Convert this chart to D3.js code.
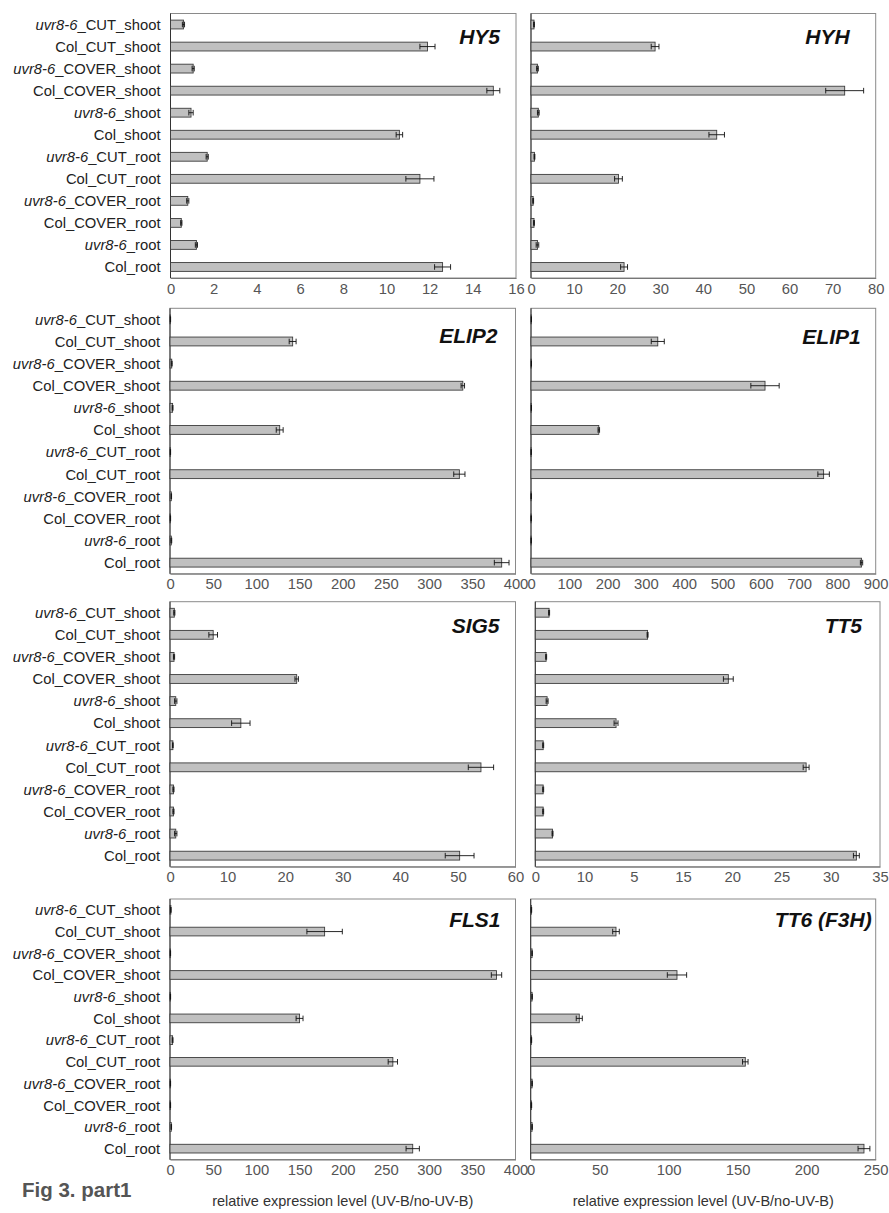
<!DOCTYPE html>
<html lang="en">
  <head>
    <meta charset="UTF-8" />
    <title>Fig 3. part1</title>
    <style>
      body {
        margin: 0;
        background: #fff;
        font-family: "Liberation Sans", Arial, sans-serif;
      }
    </style>
  </head>
  <body>
    <div id="chart"></div>
    <script src="https://d3js.org/d3.v7.min.js"></script>
    <script>
      // categories, top to bottom
      const categories = [
        "uvr8-6_CUT_shoot",
        "Col_CUT_shoot",
        "uvr8-6_COVER_shoot",
        "Col_COVER_shoot",
        "uvr8-6_shoot",
        "Col_shoot",
        "uvr8-6_CUT_root",
        "Col_CUT_root",
        "uvr8-6_COVER_root",
        "Col_COVER_root",
        "uvr8-6_root",
        "Col_root",
      ];

      const hy5Values = [0.6, 11.9, 1.05, 14.95, 0.95, 10.6, 1.7, 11.55, 0.8, 0.5, 1.2, 12.6];
      const hy5Errors = [0.05, 0.35, 0.05, 0.3, 0.1, 0.15, 0.05, 0.65, 0.05, 0.03, 0.05, 0.37];
      const hy5Ticks = [0, 2, 4, 6, 8, 10, 12, 14, 16];

      const hyhValues = [0.7, 28.8, 1.5, 72.8, 1.7, 43.1, 0.8, 20.3, 0.5, 0.7, 1.5, 21.6];
      const hyhErrors = [0.1, 0.9, 0.2, 4.4, 0.2, 1.8, 0.1, 0.9, 0.1, 0.1, 0.3, 0.8];
      const hyhTicks = [0, 10, 20, 30, 40, 50, 60, 70, 80];

      const elip2Values = [0.5, 142, 2, 339, 3, 127, 0.5, 335, 1.5, 0.5, 1.5, 384];
      const elip2Errors = [0.2, 4, 0.5, 2, 0.5, 4, 0.2, 6.5, 0.3, 0.2, 0.5, 8.5];
      const elip2Ticks = [0, 50, 100, 150, 200, 250, 300, 350, 400];

      const elip1Values = [1, 331, 1, 611, 1, 177, 0.5, 764, 0.5, 0.5, 0.5, 863];
      const elip1Errors = [0.3, 17, 0.3, 37, 0.3, 2, 0.2, 15, 0.2, 0.2, 0.2, 3];
      const elip1Ticks = [0, 100, 200, 300, 400, 500, 600, 700, 800, 900];

      const sig5Values = [0.75, 7.5, 0.7, 22.0, 1.0, 12.3, 0.5, 54.0, 0.6, 0.6, 1.0, 50.3];
      const sig5Errors = [0.1, 0.75, 0.1, 0.3, 0.2, 1.6, 0.05, 2.2, 0.1, 0.1, 0.2, 2.5];
      const sig5Ticks = [0, 10, 20, 30, 40, 50, 60];

      const tt5Values = [1.4, 11.4, 1.1, 19.6, 1.2, 8.2, 0.8, 27.5, 0.8, 0.8, 1.75, 32.6];
      const tt5Errors = [0.05, 0.05, 0.05, 0.5, 0.1, 0.2, 0.05, 0.3, 0.05, 0.05, 0.05, 0.3];
      const tt5Ticks = [0, 5, 10, 15, 20, 25, 30, 35];
      // the original figure prints 10 and 5 swapped
      const tt5TickLabels = ["0", "10", "5", "15", "20", "25", "30", "35"];

      const fls1Values = [1, 179, 0.5, 378, 0.5, 150, 3, 258, 0.5, 0.5, 1.5, 281];
      const fls1Errors = [0.3, 20.5, 0.2, 6, 0.2, 4, 0.5, 5.4, 0.2, 0.2, 0.3, 7.7];
      const fls1Ticks = [0, 50, 100, 150, 200, 250, 300, 350, 400];

      const tt6Values = [0.5, 61.8, 1, 106, 1, 35.2, 0.5, 155.5, 1, 0.5, 1, 241.5];
      const tt6Errors = [0.2, 2.4, 0.2, 7, 0.2, 2.2, 0.2, 2, 0.2, 0.2, 0.2, 4.3];
      const tt6Ticks = [0, 50, 100, 150, 200, 250];

      const axisTitle = "relative expression level (UV-B/no-UV-B)";

      const panels = [
        { gene: "HY5", values: hy5Values, errors: hy5Errors, ticks: hy5Ticks },
        { gene: "HYH", values: hyhValues, errors: hyhErrors, ticks: hyhTicks },
        { gene: "ELIP2", values: elip2Values, errors: elip2Errors, ticks: elip2Ticks },
        { gene: "ELIP1", values: elip1Values, errors: elip1Errors, ticks: elip1Ticks },
        { gene: "SIG5", values: sig5Values, errors: sig5Errors, ticks: sig5Ticks },
        { gene: "TT5", values: tt5Values, errors: tt5Errors, ticks: tt5Ticks, tickLabels: tt5TickLabels },
        { gene: "FLS1", values: fls1Values, errors: fls1Errors, ticks: fls1Ticks },
        { gene: "TT6 (F3H)", values: tt6Values, errors: tt6Errors, ticks: tt6Ticks },
      ];

      // frame of each panel in the page
      const layout = [
        { x0: 170.5, x1: 516, y0: 13.5, y1: 278, tx: 16, ty: 30 },
        { x0: 531, x1: 875.7, y0: 13.5, y1: 278, tx: 26, ty: 30 },
        { x0: 170, x1: 515.5, y0: 308.3, y1: 573.7, tx: 18, ty: 35 },
        { x0: 531, x1: 875.7, y0: 308.3, y1: 573.7, tx: 15, ty: 36 },
        { x0: 170, x1: 515.5, y0: 601.7, y1: 866.7, tx: 16, ty: 31 },
        { x0: 535.3, x1: 880, y0: 601.7, y1: 866.7, tx: 18, ty: 31.5 },
        { x0: 170, x1: 515.5, y0: 899, y1: 1159.5, tx: 15, ty: 28 },
        { x0: 530.7, x1: 875.7, y0: 899, y1: 1159.5, tx: 4, ty: 28 },
      ];

      const svg = d3
        .select("#chart")
        .append("svg")
        .attr("width", 889)
        .attr("height", 1213)
        .style("font-family", '"Liberation Sans", Arial, sans-serif');

      svg.append("rect").attr("width", 889).attr("height", 1213).attr("fill", "#fff");

      panels.forEach((p, i) => {
        const L = layout[i];
        const isLeft = i % 2 === 0;

        const x = d3
          .scaleLinear()
          .domain([0, p.ticks[p.ticks.length - 1]])
          .range([L.x0, L.x1]);
        const y = d3
          .scaleBand()
          .domain(categories)
          .range([L.y0, L.y1])
          .paddingInner(0.6)
          .paddingOuter(0.3);

        const g = svg.append("g").attr("class", "panel");

        // frame
        g.append("rect")
          .attr("x", L.x0)
          .attr("y", L.y0)
          .attr("width", L.x1 - L.x0)
          .attr("height", L.y1 - L.y0)
          .attr("fill", "none")
          .attr("stroke", "#8a8a8a")
          .attr("stroke-width", 1);

        // x axis
        const xAxis = d3
          .axisBottom(x)
          .tickValues(p.ticks)
          .tickSize(0)
          .tickPadding(5)
          .tickFormat((d, k) => (p.tickLabels ? p.tickLabels[k] : d));
        const ax = g
          .append("g")
          .attr("transform", `translate(0,${L.y1})`)
          .call(xAxis);
        ax.select(".domain").attr("stroke", "#777");
        ax.selectAll("text")
          .attr("font-size", "14.8px")
          .attr("font-family", '"Liberation Sans", Arial, sans-serif')
          .attr("fill", "#555");

        // left axis line
        g.append("line")
          .attr("x1", L.x0)
          .attr("x2", L.x0)
          .attr("y1", L.y0)
          .attr("y2", L.y1)
          .attr("stroke", "#333")
          .attr("stroke-width", 1);

        // category labels only on the left column
        if (isLeft) {
          const lab = g
            .selectAll(".cat")
            .data(categories)
            .enter()
            .append("text")
            .attr("class", "cat")
            .attr("x", L.x0 - 10)
            .attr("y", (d) => y(d) + y.bandwidth() / 2)
            .attr("dy", "0.36em")
            .attr("text-anchor", "end")
            .attr("font-size", "14.8px")
            .attr("fill", "#222");
          lab.each(function (d) {
            const t = d3.select(this);
            if (d.startsWith("uvr8-6")) {
              t.append("tspan").attr("font-style", "italic").text("uvr8-6");
              t.append("tspan").text(d.slice(6));
            } else {
              t.text(d);
            }
          });
        }

        const rows = categories.map((c, k) => ({ cat: c, v: p.values[k], e: p.errors[k] }));

        // bars
        g.selectAll(".bar")
          .data(rows)
          .enter()
          .append("rect")
          .attr("class", "bar")
          .attr("x", x(0))
          .attr("y", (d) => y(d.cat))
          .attr("width", (d) => x(d.v) - x(0))
          .attr("height", y.bandwidth())
          .attr("fill", "#c0c0c0")
          .attr("stroke", "#3c3c3c")
          .attr("stroke-width", 0.9);

        // error bars
        const eb = g
          .selectAll(".err")
          .data(rows)
          .enter()
          .append("g")
          .attr("class", "err")
          .attr("stroke", "#111")
          .attr("stroke-width", 0.9);
        const cy = (d) => y(d.cat) + y.bandwidth() / 2;
        eb.append("line")
          .attr("x1", (d) => x(d.v - d.e))
          .attr("x2", (d) => x(d.v + d.e))
          .attr("y1", cy)
          .attr("y2", cy);
        [-1, 1].forEach((s) => {
          eb.append("line")
            .attr("x1", (d) => x(d.v + s * d.e))
            .attr("x2", (d) => x(d.v + s * d.e))
            .attr("y1", (d) => cy(d) - 2.8)
            .attr("y2", (d) => cy(d) + 2.8);
        });

        // gene name
        g.append("text")
          .attr("x", L.x1 - L.tx)
          .attr("y", L.y0 + L.ty)
          .attr("text-anchor", "end")
          .attr("font-size", "21px")
          .attr("font-weight", "bold")
          .attr("font-style", "italic")
          .attr("fill", "#111")
          .text(p.gene);
      });

      // bottom titles
      [layout[6], layout[7]].forEach((L) => {
        svg.append("text")
          .attr("x", (L.x0 + L.x1) / 2)
          .attr("y", 1206)
          .attr("text-anchor", "middle")
          .attr("font-size", "14.5px")
          .attr("fill", "#333")
          .text(axisTitle);
      });

      svg.append("text")
        .attr("x", 22)
        .attr("y", 1196.5)
        .attr("font-size", "20.5px")
        .attr("font-weight", "bold")
        .attr("fill", "#555")
        .text("Fig 3. part1");
    </script>
  </body>
</html>
